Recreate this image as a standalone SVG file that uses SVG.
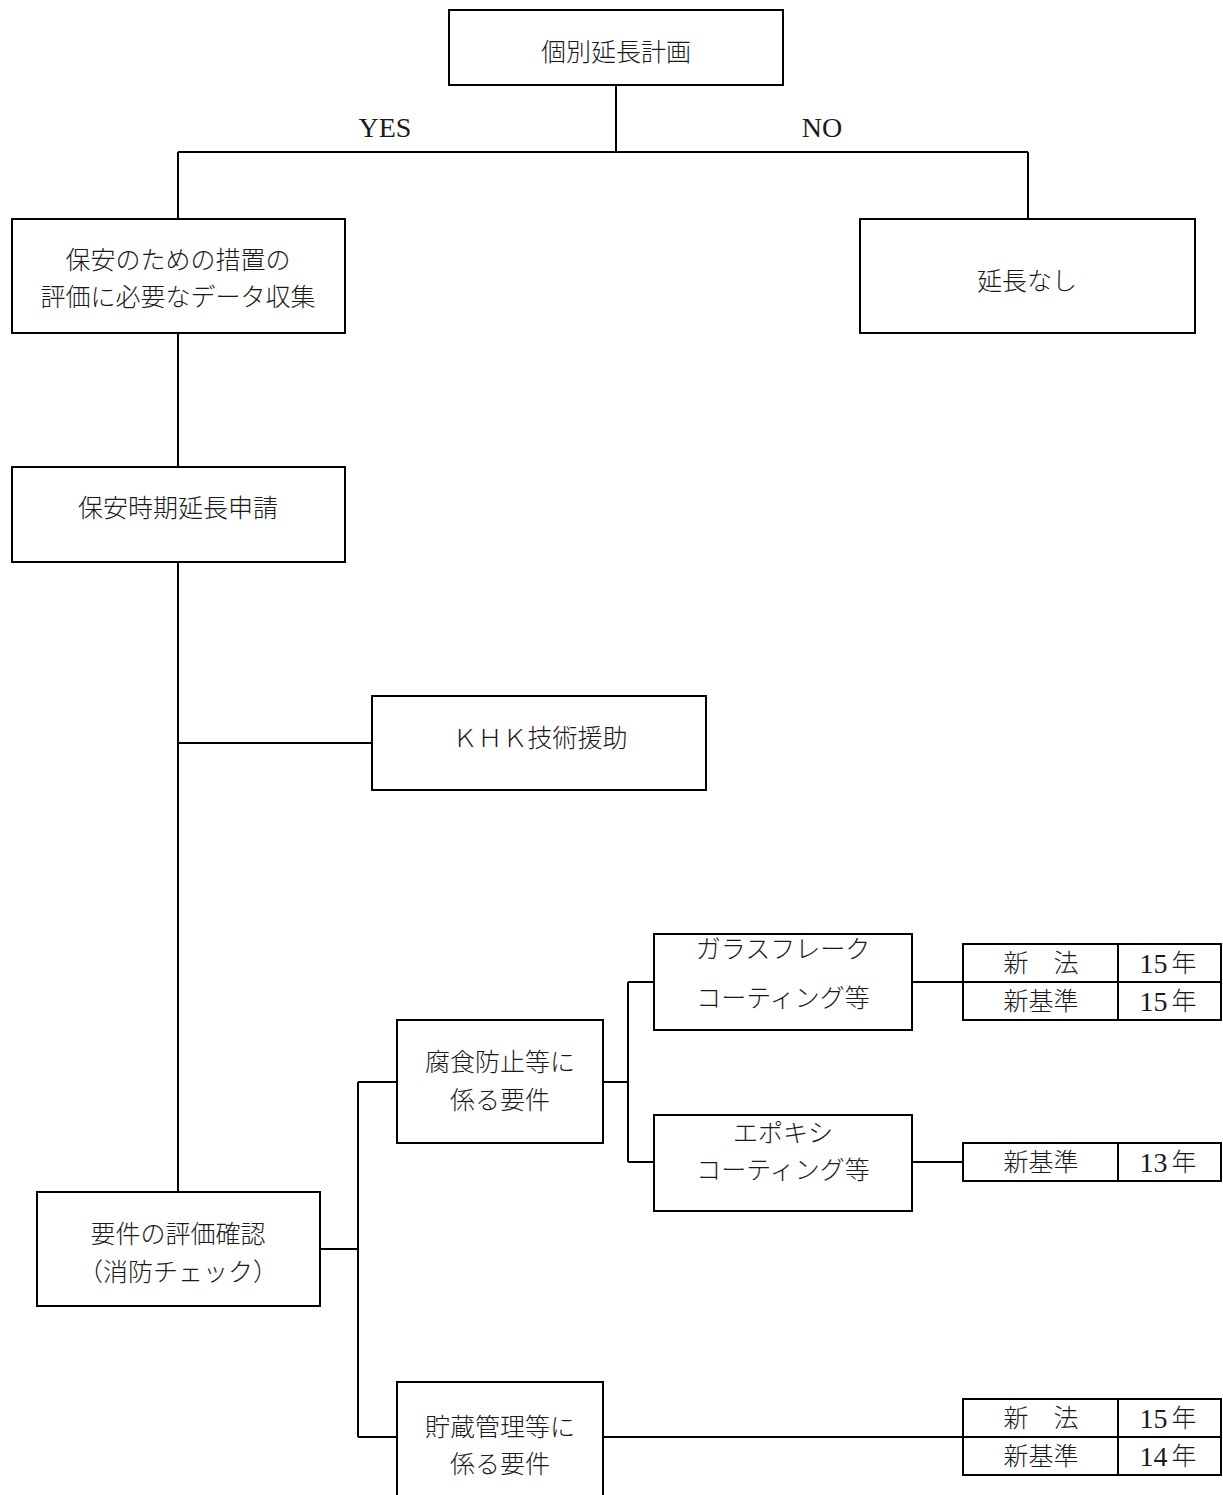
<svg xmlns="http://www.w3.org/2000/svg" width="1223" height="1495" viewBox="0 0 1223 1495">
<style>
.box{fill:#fff;stroke:#000;stroke-width:2}
.ln{fill:none;stroke:#000;stroke-width:2}
text{font-family:"Liberation Serif","Noto Sans CJK JP",serif;font-size:25px;font-weight:300;fill:#1a1a1a;text-anchor:middle;dominant-baseline:central}
.lat{font-family:"Liberation Serif",serif;font-size:28px;font-weight:400}
.num{font-family:"Liberation Serif",serif;font-size:28px;font-weight:400}
</style>
<rect width="1223" height="1495" fill="#fff"/>
<g id="connectors">
<path class="ln" d="M616,85 V152 M178,152 H1028 M178,152 V219 M1028,152 V219"/>
<path class="ln" d="M178,333 V467"/>
<path class="ln" d="M178,562 V1192"/>
<path class="ln" d="M178,743 H372"/>
<path class="ln" d="M320,1249 H358 M358,1082 V1437 M358,1082 H397 M358,1437 H397"/>
<path class="ln" d="M603,1082 H628 M628,982 V1162 M628,982 H654 M628,1162 H654"/>
<path class="ln" d="M912,982 H963 M912,1162 H963"/>
<path class="ln" d="M603,1437 H963"/>
</g>
<g id="label-yes"><text class="lat" x="385" y="127">YES</text></g>
<g id="label-no"><text class="lat" x="822" y="127">NO</text></g>
<g id="n-plan">
<rect class="box" x="449" y="10" width="334" height="75"/>
<text x="616" y="52">個別延長計画</text>
</g>
<g id="n-data">
<rect class="box" x="12" y="219" width="333" height="114"/>
<text x="178" y="260">保安のための措置の</text>
<text x="178" y="297">評価に必要なデータ収集</text>
</g>
<g id="n-none">
<rect class="box" x="860" y="219" width="335" height="114"/>
<text x="1027" y="281">延長なし</text>
</g>
<g id="n-apply">
<rect class="box" x="12" y="467" width="333" height="95"/>
<text x="178" y="508">保安時期延長申請</text>
</g>
<g id="n-khk">
<rect class="box" x="372" y="696" width="334" height="94"/>
<text x="540" y="738">ＫＨＫ技術援助</text>
</g>
<g id="n-eval">
<rect class="box" x="37" y="1192" width="283" height="114"/>
<text x="178" y="1234">要件の評価確認</text>
<text x="178" y="1272">（消防チェック）</text>
</g>
<g id="n-corr">
<rect class="box" x="397" y="1020" width="206" height="123"/>
<text x="500" y="1062">腐食防止等に</text>
<text x="500" y="1100">係る要件</text>
</g>
<g id="n-glass">
<rect class="box" x="654" y="934" width="258" height="96"/>
<text x="783" y="949">ガラスフレーク</text>
<text x="783" y="998">コーティング等</text>
</g>
<g id="n-epoxy">
<rect class="box" x="654" y="1115" width="258" height="96"/>
<text x="783" y="1133">エポキシ</text>
<text x="783" y="1170">コーティング等</text>
</g>
<g id="n-storage">
<rect class="box" x="397" y="1382" width="206" height="130"/>
<text x="500" y="1427">貯蔵管理等に</text>
<text x="500" y="1464">係る要件</text>
</g>
<g id="t-glass">
<rect class="box" x="963" y="944" width="258" height="76"/>
<path class="ln" d="M963,982 H1221 M1118,944 V1020"/>
<text x="1041" y="963">新　法</text>
<text x="1041" y="1001">新基準</text>
<text x="1168" y="963"><tspan class="num">15</tspan><tspan dx="4">年</tspan></text>
<text x="1168" y="1001"><tspan class="num">15</tspan><tspan dx="4">年</tspan></text>
</g>
<g id="t-epoxy">
<rect class="box" x="963" y="1143" width="258" height="38"/>
<path class="ln" d="M1118,1143 V1181"/>
<text x="1041" y="1162">新基準</text>
<text x="1168" y="1162"><tspan class="num">13</tspan><tspan dx="4">年</tspan></text>
</g>
<g id="t-storage">
<rect class="box" x="963" y="1399" width="258" height="76"/>
<path class="ln" d="M963,1437 H1221 M1118,1399 V1475"/>
<text x="1041" y="1418">新　法</text>
<text x="1041" y="1456">新基準</text>
<text x="1168" y="1418"><tspan class="num">15</tspan><tspan dx="4">年</tspan></text>
<text x="1168" y="1456"><tspan class="num">14</tspan><tspan dx="4">年</tspan></text>
</g>
</svg>
